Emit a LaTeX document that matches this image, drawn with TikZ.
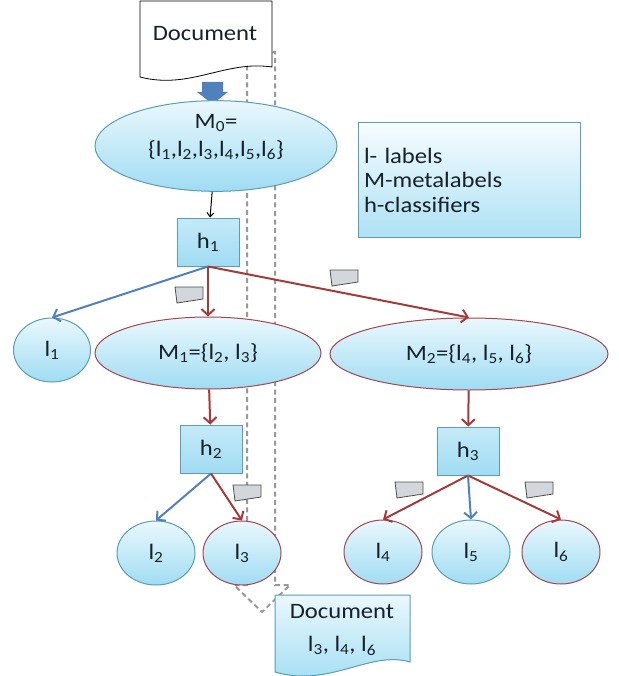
\documentclass[tikz,border=0pt]{standalone}
\usepackage{fontspec}
\setmainfont{Carlito}[FakeStretch=1.12]
\usepackage{tikz}
\usetikzlibrary{arrows.meta,positioning,shapes.geometric}
\definecolor{CellTop}{HTML}{EAF8FD}
\definecolor{CellBottom}{HTML}{A0DCF3}
\definecolor{EdgeTeal}{HTML}{5A9DB4}
\definecolor{EdgeRed}{HTML}{A3474C}
\definecolor{ArrowRed}{HTML}{A33B3B}
\definecolor{ArrowBlue}{HTML}{4F81BD}
\definecolor{FlagGrey}{HTML}{D3D6DA}
\definecolor{InkDark}{HTML}{17212B}
\newcommand{\lbl}[1]{l\textsubscript{#1}}

\begin{document}
\begin{tikzpicture}[x=1pt,y=-1pt,
  font=\fontsize{22}{28}\selectfont,text=InkDark,
  set/.style={ellipse,draw=EdgeRed,line width=1pt,top color=CellTop,bottom color=CellBottom,inner sep=0pt},
  leaf/.style={set,minimum width=78,minimum height=64},
  clf/.style={draw=EdgeTeal,line width=1pt,top color=CellTop!50!CellBottom,bottom color=CellBottom,minimum width=62,minimum height=48,inner sep=0pt},
  redarrow/.style={draw=ArrowRed,line width=2pt,-{Straight Barb[length=6pt,width=13pt]}},
  bluearrow/.style={draw=ArrowBlue,line width=2pt,-{Straight Barb[length=6pt,width=13pt]}},
  flowpath/.style={draw=gray!80,line width=2pt,dash pattern=on 5pt off 3.5pt},
  flag/.style={draw=black!70,line width=0.8pt,fill=FlagGrey}]
  \useasboundingbox (0,0) rectangle (618,676);
  % path of the document through the tree
  \draw[flowpath] (247,52) -- (275,52) -- (275,585) -- (290,585) -- (262,612) -- (234,585) -- (247,585) -- cycle;

  % input document
  \draw[line width=0.8pt,fill=white] (140,1) -- (272,1) -- (272,67) .. controls (225,60) and (190,90) .. (140,77) -- cycle;
  \node (doc) at (205,34) {Document};
  \fill[ArrowBlue] (202,82) -- (223,82) -- (223,92) -- (228,92) -- (212.5,104) -- (197,92) -- (202,92) -- cycle;

  \node[set,draw=EdgeTeal,minimum width=242,minimum height=82,align=center] (m0) at (216,146) {M\textsubscript{0}=\\\{\lbl1,\lbl2,\lbl3,\lbl4,\lbl5,\lbl6\}\\[-6pt]};
  \node[draw=EdgeTeal,line width=1pt,top color=CellTop!40!white,bottom color=CellBottom!85,minimum width=222,minimum height=114,text width=210,align=left,font=\fontsize{22}{24.5}\selectfont] (key) at (469,180) {l- labels\\M-metalabels\\h-classifiers};

  \node[clf] (h1) at (208,242) {h\textsubscript{1}};
  \node[leaf,draw=EdgeTeal,minimum width=77] (l1) at (52,350) {\lbl1};
  \node[set,minimum width=226,minimum height=72] (m1) at (208,353) {M\textsubscript{1}=\{\lbl2, \lbl3\}};
  \node[set,minimum width=278,minimum height=72] (m2) at (469,354) {M\textsubscript{2}=\{\lbl4, \lbl5, \lbl6\}};
  \node[clf] (h2) at (211,449) {h\textsubscript{2}};
  \node[clf] (h3) at (468,451) {h\textsubscript{3}};
  \node[leaf,draw=EdgeTeal] (l2) at (156,553) {\lbl2};
  \node[leaf] (l3) at (242,553) {\lbl3};
  \node[leaf] (l4) at (383,552) {\lbl4};
  \node[leaf,draw=EdgeTeal] (l5) at (471,552) {\lbl5};
  \node[leaf] (l6) at (561,552) {\lbl6};

  % output document
  \draw[draw=EdgeTeal,line width=1pt,top color=CellTop,bottom color=CellBottom] (275,595) -- (410,595) -- (410,662) .. controls (370,650) and (330,688) .. (275,672) -- cycle;
  \node[align=center,font=\fontsize{22}{33}\selectfont] (docout) at (342,630) {Document\\\lbl3, \lbl4, \lbl6};

  \draw[line width=1pt,-{Straight Barb[length=4pt,width=7pt]}] (m0) -- (h1);
  \draw[bluearrow] (h1.south) -- (l1.north);
  \foreach \x in {m1,m2}{
    \draw[redarrow] (h1.south) -- (\x.north);
  }
  \draw[redarrow] (m1) -- (h2);
  \draw[redarrow] (m2) -- (h3);
  \draw[bluearrow] (h2.south) -- (l2.north);
  \draw[redarrow] (h2.south) -- (l3.north);
  \foreach \x in {l4,l6}{
    \draw[redarrow] (h3.south) -- (\x.north);
  }
  \draw[bluearrow] (h3.south) -- (l5.north);

  % routed document marks
  \foreach \fx/\fy in {175/287,330/270,233/485,395/482,525/482}{
    \draw[flag] (\fx,\fy) -- ++(28,0) -- ++(0,12) -- ++(-26,4) -- cycle;
  }
\end{tikzpicture}
\end{document}
